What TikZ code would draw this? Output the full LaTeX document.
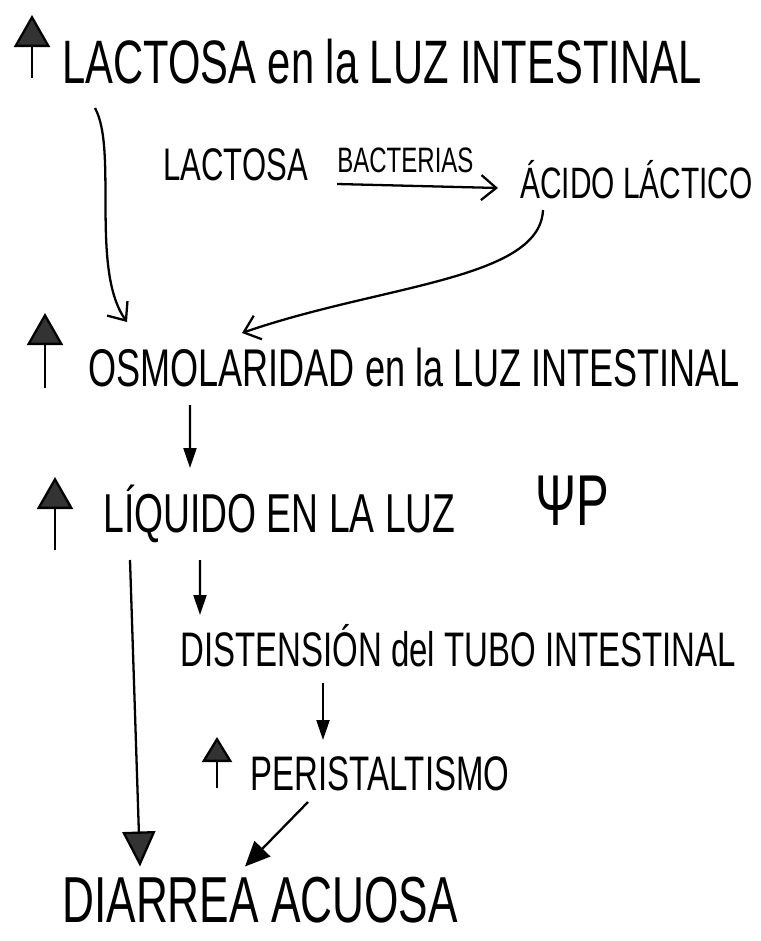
\documentclass[tikz,border=0pt]{standalone}
\usepackage{fontspec}
\setmainfont{Liberation Sans}[FakeStretch=0.68]
\usetikzlibrary{arrows.meta}

\tikzset{
	txt/.style={anchor=base west, inner sep=0pt},
	upmark/.style={line width=1.3pt, -{Triangle[length=0.64cm, width=0.72cm, fill=black!80]}},
	bigtip/.style={line width=1.3pt, -{Triangle[length=0.7cm, width=0.66cm, fill=black!80]}},
	open/.style={line width=1.3pt, -{Straight Barb[length=0.3cm, width=0.5cm]}},
	down/.style={line width=1.3pt, -{Triangle[length=0.4cm, width=0.26cm]}},
	diag/.style={line width=1.3pt, -{Triangle[length=0.5cm, width=0.44cm]}}
}

\begin{document}
\begin{tikzpicture}[scale=1]
	\useasboundingbox (0,0) rectangle (15.22,-18.82);

	\node[txt, font=\fontsize{34.9}{36}\selectfont] (lacluz) at (1.24,-1.68) {LACTOSA en la LUZ INTESTINAL};
	\node[txt, font=\fontsize{26}{28}\selectfont] (lactosa) at (3.26,-3.6) {LACTOSA};
	\node[txt, font=\fontsize{25}{28}\selectfont] (acido) at (10.4,-3.96) {ÁCIDO LÁCTICO};
	\node[txt, font=\fontsize{20.1}{22}\selectfont] (bact) at (6.74,-3.44) {BACTERIAS};
	\node[txt, font=\fontsize{30.2}{32}\selectfont] (osmo) at (1.76,-7.72) {OSMOLARIDAD en la LUZ INTESTINAL};
	\node[txt, font=\fontsize{31.2}{33}\selectfont] (liquido) at (2.06,-10.64) {LÍQUIDO EN LA LUZ};
	\node[txt, font=\fontsize{41}{43}\selectfont] (psi) at (10.7,-10.5) {ΨP};
	\node[txt, font=\fontsize{27.6}{30}\selectfont] (dist) at (3.6,-13.32) {DISTENSIÓN del TUBO INTESTINAL};
	\node[txt, font=\fontsize{27.6}{30}\selectfont] (peri) at (5.0,-15.8) {PERISTALTISMO};
	\node[txt, font=\fontsize{37}{40}\selectfont] (diarrea) at (1.24,-18.45) {DIARREA ACUOSA};

	\draw[upmark] ([xshift=-0.6cm,yshift=0.12cm]lacluz.base west) -- ++(0,1.26);
	\draw[upmark] ([xshift=-0.86cm,yshift=-0.04cm]osmo.base west) -- ++(0,1.5);
	\draw[upmark] ([xshift=-0.96cm,yshift=-0.36cm]liquido.base west) -- ++(0,1.46);
	\draw[line width=1.3pt, -{Triangle[length=0.5cm, width=0.6cm, fill=black!80]}] ([xshift=-0.66cm,yshift=0.04cm]peri.base west) -- ++(0,1.02);

	\draw[open] ([xshift=0.58cm,yshift=-0.08cm]lactosa.base east) -- ([xshift=-0.44cm,yshift=0.2cm]acido.base west);
	\draw[open] ([xshift=0.66cm,yshift=-0.48cm]lacluz.base west) .. controls +(0.46,-0.84) and +(-0.74,1.04) .. ([xshift=0.78cm,yshift=1.28cm]osmo.base west);
	\draw[open] ([xshift=0.46cm,yshift=-0.24cm]acido.base west) .. controls +(-0.06,-1.4) and +(2.76,0.96) .. ([xshift=3.08cm,yshift=1.06cm]osmo.base west);

	\draw[down] ([xshift=2.04cm,yshift=-0.38cm]osmo.base west) -- ([xshift=1.74cm,yshift=1.28cm]liquido.base west);
	\draw[bigtip] ([xshift=0.54cm,yshift=-0.56cm]liquido.base west) -- ([xshift=1.56cm,yshift=1.12cm]diarrea.base west);
	\draw[down] ([xshift=1.94cm,yshift=-0.56cm]liquido.base west) -- ([xshift=0.4cm,yshift=1.02cm]dist.base west);
	\draw[down] ([xshift=2.86cm,yshift=-0.34cm]dist.base west) -- ([xshift=1.46cm,yshift=1.0cm]peri.base west);
	\draw[diag] ([xshift=1.16cm,yshift=-0.24cm]peri.base west) -- ([xshift=3.66cm,yshift=1.12cm]diarrea.base west);
\end{tikzpicture}
\end{document}
